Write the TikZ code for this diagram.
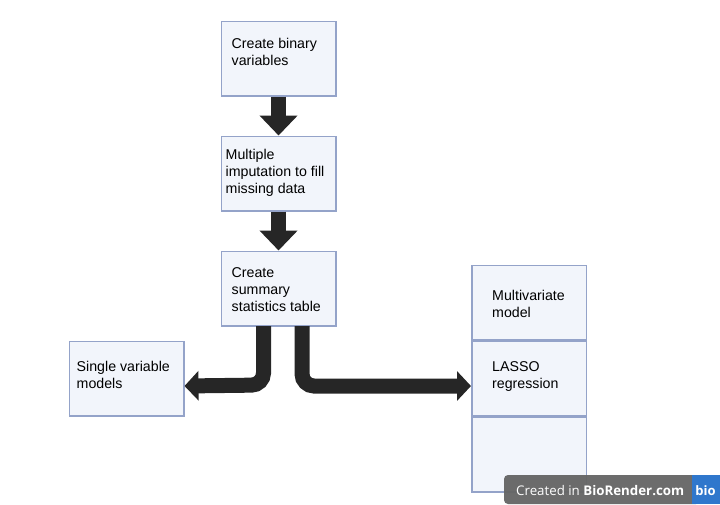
\documentclass[tikz,border=0pt]{standalone}
\usepackage{fontspec}
\setmainfont{Liberation Sans}
\newfontfamily\badgefont{Open Sans}
\usetikzlibrary{arrows.meta}
\definecolor{boxfill}{HTML}{F2F5FB}
\definecolor{boxline}{HTML}{94A3C9}
\definecolor{arrowdark}{HTML}{262626}
\definecolor{badgegray}{HTML}{666666}
\definecolor{badgeblue}{HTML}{2F77CC}
\tikzset{
  stepbox/.style={draw=boxline, line width=1.6pt, fill=boxfill, minimum width=114.5pt, minimum height=74.5pt, inner sep=0pt, anchor=north west},
  steptext/.style={anchor=north west, align=left, inner sep=0pt, font=\fontsize{14.2}{17}\selectfont, text=black},
  downarrow/.style={draw=arrowdark, line width=15pt, -{Triangle[width=37pt,length=20pt]}},
  bentarrow/.style={draw=arrowdark, line width=15pt, rounded corners=12pt, -{Triangle[width=29pt,length=14pt]}},
}
\begin{document}
\begin{tikzpicture}[x=1pt, y=-1pt]
  \useasboundingbox (0,0) rectangle (720,504);
  % boxes
  \node[stepbox] (binary) at (220.5,20.5) {};
  \node[stepbox] (impute) at (220.5,135.5) {};
  \node[stepbox] (summary) at (220.5,250.5) {};
  \node[stepbox] (single) at (68.5,340.5) {};
  \node[stepbox] (multi) at (471,264.5) {};
  \node[stepbox] (lasso) at (471,340.5) {};
  \node[stepbox] (blank) at (471,416.5) {};
  % texts
  \node[steptext] (binarytext) at (231.5,38) {Create binary\\variables};
  \node[steptext] (imputetext) at (225.5,149) {Multiple\\imputation to fill\\missing data};
  \node[steptext] (summarytext) at (231.5,267) {Create\\summary\\statistics table};
  \node[steptext] (singletext) at (76.5,361) {Single variable\\models};
  \node[steptext] (multitext) at (492,290) {Multivariate\\model};
  \node[steptext] (lassotext) at (492,361) {LASSO\\regression};
  % arrows
  \coordinate (leftstart) at (263.5,326);
  \coordinate (leftbend) at (263.5,385);
  \coordinate (lefttip) at (184.5,386);
  \coordinate (rightstart) at (302,326);
  \coordinate (rightbend) at (302,386);
  \coordinate (righttip) at (471,386);
  \draw[downarrow] (binary.south) -- (impute.north);
  \draw[downarrow] (impute.south) -- (summary.north);
  \draw[bentarrow] (leftstart) -- (leftbend) -- (lefttip);
  \draw[bentarrow] (rightstart) -- (rightbend) -- (righttip);
  % badge
  \fill[badgegray, opacity=0.96, rounded corners=4pt] (504,504) -- (504,475) -- (700,475) -- (700,504) -- cycle;
  \fill[badgeblue] (692,475) rectangle (720,504);
  \node[anchor=base west, inner sep=0pt, text=white, font=\badgefont\fontsize{13.3}{13}\selectfont] (badgetext) at (516,495) {Created in \textbf{BioRender.com}};
  \node[anchor=base, inner sep=0pt, text=white, font=\badgefont\bfseries\fontsize{13}{13}\selectfont] (badgelogo) at (705.5,495) {bio};
\end{tikzpicture}
\end{document}
